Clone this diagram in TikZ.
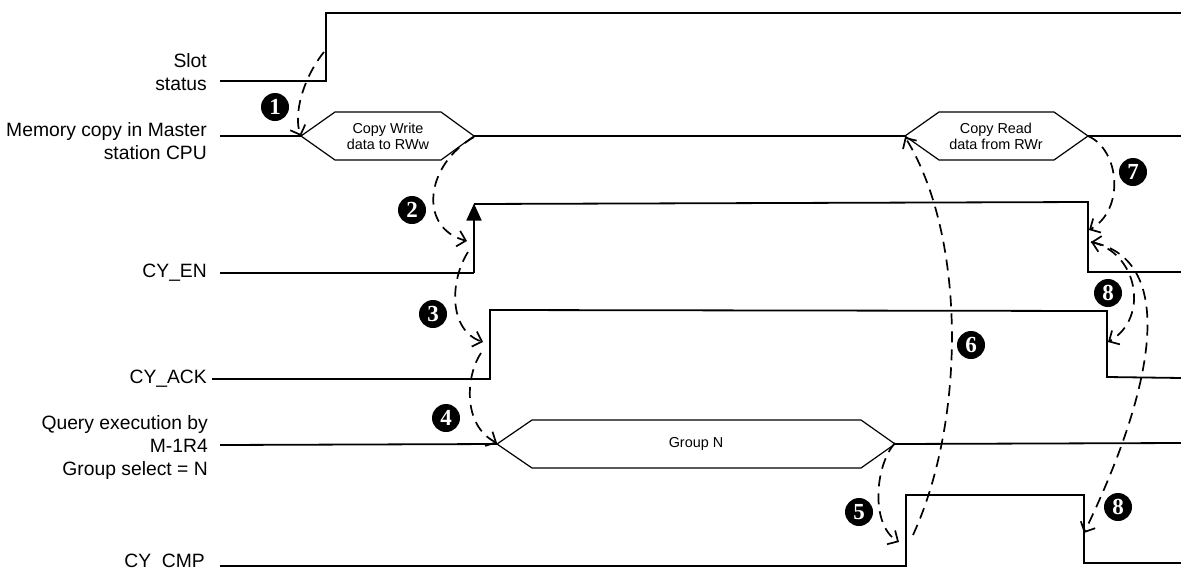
\documentclass[tikz,border=0pt]{standalone}
\usepackage{fontspec}
\setmainfont{Liberation Sans}
\newfontfamily\numfont{Liberation Serif}
\usetikzlibrary{arrows.meta, positioning}

\tikzset{
  sig/.style={line width=1.8pt, line join=miter},
  hexbox/.style={line width=1.2pt, line join=miter},
  cause/.style={dash pattern=on 11pt off 7pt, line width=1.7pt,
    -{Straight Barb[length=8pt,width=16pt]}},
  num/.style={circle, fill=black, text=white, inner sep=0pt, minimum size=28pt,
    font=\numfont\fontsize{23}{23}\selectfont\bfseries},
  lab/.style={anchor=base east, align=right, inner sep=0pt,
    font=\fontsize{19.3}{23}\selectfont},
  boxtext/.style={align=center, inner sep=0pt, font=\fontsize{14.4}{16}\selectfont},
}

\begin{document}
\begin{tikzpicture}[x=1pt, y=-1pt]
  \useasboundingbox (0,0) rectangle (1181,568);

  % labels (base = last line)
  \node[lab] (lslot) at (207,90) {Slot\\status};
  \node[lab] (lmem)  at (207,159) {Memory copy in Master\\station CPU};
  \node[lab] (len)   at (207,277) {CY\_EN};
  \node[lab] (lack)  at (207,383) {CY\_ACK};
  \node[lab] (lqry)  at (208,475) {Query execution by\\M-1R4\\Group select = N};
  \node[lab] (lcmp)  at (205,567) {CY\_CMP};

  % signals
  \draw[sig] (220,81) -- (326,81) -- (326,13) -- (1182,13);          % Slot status
  \draw[sig] (220,136) -- (301,136) (474,136) -- (905,136) (1088,136) -- (1182,136);
  \draw[hexbox] (301,136) -- (335,112) -- (441,112) -- (474,136) -- (441,160) -- (335,160) -- cycle;
  \draw[hexbox] (905,136) -- (939,112) -- (1054,112) -- (1088,136) -- (1054,160) -- (939,160) -- cycle;
  \node[boxtext] (wbox) at (388,136) {Copy Write\\data to RWw};
  \node[boxtext] (rbox) at (996,136) {Copy Read\\data from RWr};
  \draw[sig] (220,273) -- (474,273);                                   % CY_EN
  \draw[sig, -{Triangle[length=17pt,width=15pt]}] (474,273) -- (474,203.5);
  \draw[sig] (474,204) -- (1088,202) -- (1088,272) -- (1182,272);
  \draw[sig] (212,379) -- (490,379) -- (490,310) -- (1107,311) -- (1107,377) -- (1182,378); % CY_ACK
  \draw[sig] (220,445) -- (497,444) (895,444) -- (1182,443);           % Query
  \draw[hexbox] (497,444) -- (532,420) -- (861,420) -- (895,444) -- (861,468) -- (532,468) -- cycle;
  \node[boxtext] (gbox) at (696,444) {Group N};
  \draw[sig] (220,566) -- (906,566) -- (906,495) -- (1084,495) -- (1084,563) -- (1182,563); % CY_CMP

  % event points
  \coordinate (s1) at (324,52);
  \coordinate (m1) at (301,136);
  \coordinate (m2) at (474,137);
  \coordinate (e2) at (467,241);
  \coordinate (e3) at (468,252);
  \coordinate (a3) at (483,342);
  \coordinate (a4) at (481,353);
  \coordinate (q4) at (497,443);
  \coordinate (q5) at (895,443);
  \coordinate (c5) at (899,542);
  \coordinate (c6) at (913,535);
  \coordinate (m6) at (905,137);
  \coordinate (m7) at (1088,136);
  \coordinate (e7) at (1089,230);
  \coordinate (e8) at (1091,242);
  \coordinate (a8) at (1108,342);
  \coordinate (c8) at (1084,533);

  % causes
  \draw[cause] (s1) .. controls (303,78) and (293,115) .. (m1);
  \draw[cause] (m2) .. controls (425,165) and (418,228) .. (e2);
  \draw[cause] (e3) .. controls (450,280) and (448,330) .. (a3);
  \draw[cause] (a4) .. controls (466,375) and (462,425) .. (q4);
  \draw[cause] (q5) .. controls (875,465) and (870,525) .. (c5);
  \draw[cause] (c6) .. controls (966,420) and (966,236) .. (m6);
  \draw[cause] (m7) .. controls (1120,150) and (1125,210) .. (e7);
  \draw[cause] (e8) .. controls (1138,252) and (1150,318) .. (a8);
  \draw[cause, {Straight Barb[length=8pt,width=16pt]}-{Straight Barb[length=8pt,width=16pt]}]
    (e8) .. controls (1175,260) and (1158,380) .. (c8);

  \node[num] (n1) at (275,107) {1};
  \node[num] (n2) at (412,210) {2};
  \node[num] (n3) at (433,314) {3};
  \node[num] (n4) at (446,418) {4};
  \node[num] (n5) at (859,512) {5};
  \node[num] (n6) at (971,345) {6};
  \node[num] (n7) at (1133,172) {7};
  \node[num] (n8a) at (1108,293) {8};
  \node[num] (n8b) at (1118,507) {8};
\end{tikzpicture}
\end{document}
